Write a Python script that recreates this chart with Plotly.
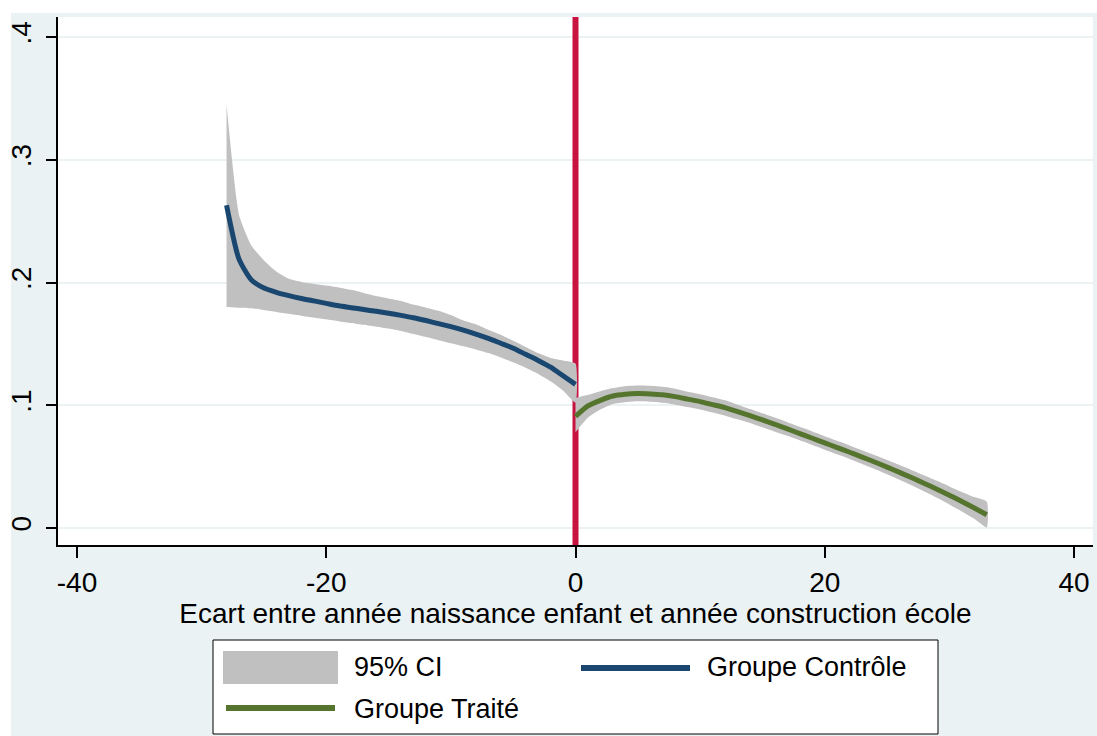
import plotly.graph_objects as go

# Control group (birth year before school construction)
ctrl_x = list(range(-28, 1))
ctrl_fit = [0.263, 0.219, 0.202, 0.1955, 0.192, 0.1893, 0.187, 0.185, 0.183, 0.181,
            0.1795, 0.178, 0.1765, 0.175, 0.1732, 0.1713, 0.169, 0.1665, 0.164, 0.1612,
            0.158, 0.1545, 0.1505, 0.1465, 0.1415, 0.1365, 0.131, 0.124, 0.117]
ctrl_hi = [0.345, 0.255, 0.230, 0.218, 0.209, 0.203, 0.2005, 0.199, 0.1975, 0.196,
           0.194, 0.1915, 0.189, 0.187, 0.185, 0.182, 0.1795, 0.177, 0.1735, 0.169,
           0.166, 0.1615, 0.1575, 0.1525, 0.1475, 0.1425, 0.1385, 0.1365, 0.134]
ctrl_lo = [0.180, 0.1795, 0.179, 0.1775, 0.176, 0.1745, 0.173, 0.1715, 0.170, 0.1685,
           0.167, 0.1655, 0.164, 0.1625, 0.1605, 0.158, 0.1555, 0.153, 0.1505, 0.148,
           0.1455, 0.1425, 0.139, 0.135, 0.1305, 0.1255, 0.1195, 0.112, 0.102]

# Treated group (birth year after school construction)
trt_x = list(range(0, 34))
trt_fit = [0.091, 0.0995, 0.104, 0.1075, 0.109, 0.1095, 0.1092, 0.1085, 0.107, 0.105,
           0.103, 0.1005, 0.098, 0.0948, 0.0915, 0.088, 0.0845, 0.0807, 0.0769, 0.0731,
           0.0693, 0.0655, 0.0617, 0.0578, 0.0538, 0.0496, 0.0453, 0.0409, 0.0363, 0.0316,
           0.0267, 0.0216, 0.0163, 0.0108]
trt_hi = [0.106, 0.1085, 0.1115, 0.114, 0.1155, 0.116, 0.1158, 0.115, 0.1135, 0.111,
          0.109, 0.1065, 0.104, 0.1005, 0.097, 0.0935, 0.090, 0.0862, 0.0824, 0.0786,
          0.0748, 0.071, 0.0672, 0.0633, 0.0594, 0.0554, 0.0513, 0.0471, 0.0428, 0.0384,
          0.0339, 0.0294, 0.0252, 0.0215]
trt_lo = [0.078, 0.090, 0.0965, 0.101, 0.1025, 0.1032, 0.1028, 0.102, 0.1005, 0.0985,
          0.0965, 0.094, 0.0915, 0.0885, 0.0855, 0.082, 0.0785, 0.0751, 0.0714, 0.0676,
          0.0638, 0.06, 0.0562, 0.0522, 0.0481, 0.0438, 0.0393, 0.0346, 0.0297, 0.0246,
          0.0192, 0.0135, 0.0075, 0.0005]

y_ticks = [0, 0.1, 0.2, 0.3, 0.4]
y_tick_labels = ["0", ".1", ".2", ".3", ".4"]
x_ticks = [-40, -20, 0, 20, 40]
x_tick_labels = ["-40", "-20", "0", "20", "40"]
x_range = [-41.525, 41.525]
y_range = [-0.01385, 0.41629]
cutoff = 0

legend_labels = ["95% CI", "Groupe Contrôle", "Groupe Traité"]
x_title = "Ecart entre année naissance enfant et année construction école"

W, H = 1097, 736
ML, MR, MT, MB = 58, 4, 17, 191
PW, PH = W - ML - MR, H - MT - MB

BG = "#EAF2F3"
CI_COLOR = "#C0C0C0"
NAVY = "#1A476F"
GREEN = "#55752F"
RED = "#C81240"
FONT = "Arial, Liberation Sans, sans-serif"
FS = 28


def px(x):
    return (x - ML) / PW


def py(y):
    return (H - MB - y) / PH


fig = go.Figure()

# vertical reference line at the construction year (under the bands)
fig.add_trace(go.Scatter(
    x=[cutoff, cutoff], y=y_range, mode="lines",
    line=dict(color=RED, width=6), hoverinfo="skip", showlegend=False))

fig.add_trace(go.Scatter(
    x=ctrl_x + ctrl_x[::-1], y=ctrl_hi + ctrl_lo[::-1],
    fill="toself", fillcolor=CI_COLOR, line=dict(width=0, shape="spline", smoothing=0.5),
    mode="lines", hoverinfo="skip", showlegend=False))
fig.add_trace(go.Scatter(
    x=trt_x + trt_x[::-1], y=trt_hi + trt_lo[::-1],
    fill="toself", fillcolor=CI_COLOR, line=dict(width=0, shape="spline", smoothing=0.5),
    mode="lines", hoverinfo="skip", showlegend=False))
fig.add_trace(go.Scatter(
    x=ctrl_x, y=ctrl_fit, mode="lines", name=legend_labels[1],
    line=dict(color=NAVY, width=5, shape="spline", smoothing=0.6), showlegend=False))
fig.add_trace(go.Scatter(
    x=trt_x, y=trt_fit, mode="lines", name=legend_labels[2],
    line=dict(color=GREEN, width=5, shape="spline", smoothing=0.6), showlegend=False))

shapes = [
    # thin white outer border (top and left)
    dict(type="rect", xref="paper", yref="paper", x0=px(0), x1=px(W),
         y0=py(13), y1=py(0), fillcolor="white", line=dict(width=0), layer="below"),
    dict(type="rect", xref="paper", yref="paper", x0=px(0), x1=px(11),
         y0=py(H), y1=py(0), fillcolor="white", line=dict(width=0), layer="below"),
    # legend box
    dict(type="rect", xref="paper", yref="paper", x0=px(213), x1=px(938),
         y0=py(734), y1=py(640), fillcolor="white",
         line=dict(color="black", width=1), layer="above"),
    dict(type="rect", xref="paper", yref="paper", x0=px(223), x1=px(338),
         y0=py(684), y1=py(651), fillcolor=CI_COLOR, line=dict(width=0), layer="above"),
    dict(type="line", xref="paper", yref="paper", x0=px(581), x1=px(690),
         y0=py(668), y1=py(668), line=dict(color=NAVY, width=6), layer="above"),
    dict(type="line", xref="paper", yref="paper", x0=px(226), x1=px(335),
         y0=py(708), y1=py(708), line=dict(color=GREEN, width=6), layer="above"),
]

annotations = [
    dict(xref="paper", yref="paper", x=px(352), y=py(667), text=legend_labels[0],
         showarrow=False, xanchor="left", yanchor="middle",
         font=dict(family=FONT, size=27, color="black")),
    dict(xref="paper", yref="paper", x=px(705), y=py(667), text=legend_labels[1],
         showarrow=False, xanchor="left", yanchor="middle",
         font=dict(family=FONT, size=27, color="black")),
    dict(xref="paper", yref="paper", x=px(352), y=py(709), text=legend_labels[2],
         showarrow=False, xanchor="left", yanchor="middle",
         font=dict(family=FONT, size=27, color="black")),
]

fig.update_layout(
    width=W, height=H,
    margin=dict(l=ML, r=MR, t=MT, b=MB, pad=0),
    paper_bgcolor=BG, plot_bgcolor="white",
    showlegend=False,
    shapes=shapes, annotations=annotations,
    font=dict(family=FONT, size=FS, color="black"),
)

fig.update_xaxes(
    range=x_range, tickvals=x_ticks, ticktext=x_tick_labels,
    showgrid=False, zeroline=False,
    showline=True, linecolor="black", linewidth=2,
    ticks="outside", ticklen=11, tickwidth=2, tickcolor="black",
    tickfont=dict(family=FONT, size=FS),
    title=dict(text=x_title, font=dict(family=FONT, size=FS), standoff=6),
)
fig.update_yaxes(
    range=y_range, tickvals=y_ticks, ticktext=y_tick_labels,
    showgrid=True, gridcolor=BG, gridwidth=2, zeroline=False,
    showline=True, linecolor="black", linewidth=2,
    ticks="outside", ticklen=10, tickwidth=2, tickcolor="black",
    tickangle=-90, tickfont=dict(family=FONT, size=FS), ticklabelstandoff=4,
)

fig.write_html("out.html")
